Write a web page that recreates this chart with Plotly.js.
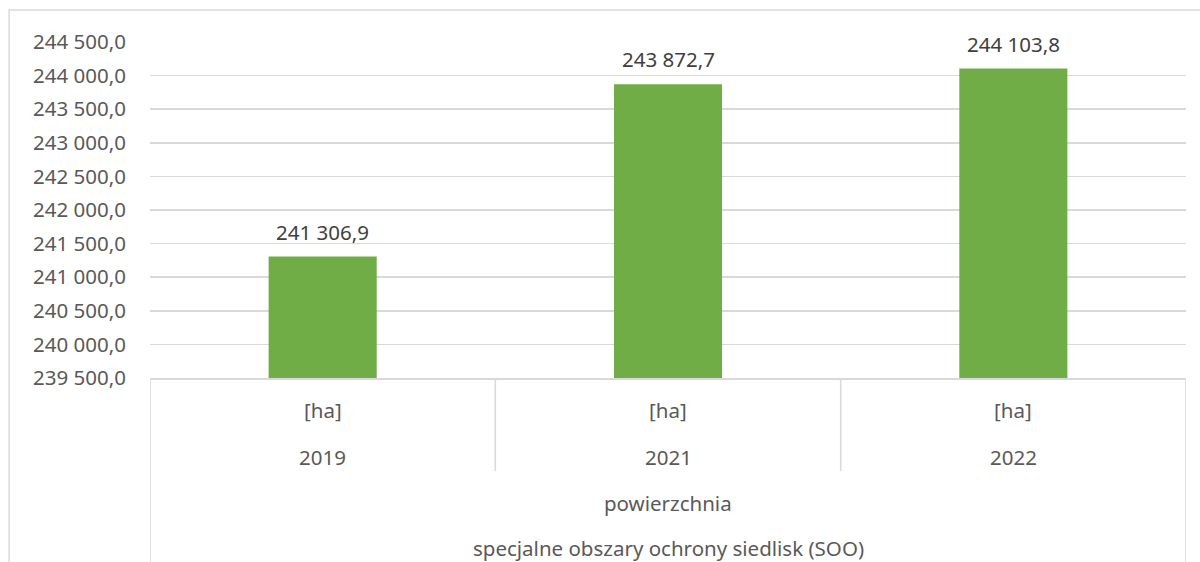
<!DOCTYPE html>
<html>
<head>
<meta charset="utf-8">
<script src="https://cdn.plot.ly/plotly-3.0.1.min.js"></script>
<style>html,body{margin:0;padding:0;background:#fff;}#chart{width:1200px;height:562px;}</style>
</head>
<body>
<div id="chart"></div>
<script>
var years = ['2019', '2021', '2022'];
var units = ['[ha]', '[ha]', '[ha]'];
var values = [241306.9, 243872.7, 244103.8];
var valueLabels = ['241 306,9', '243 872,7', '244 103,8'];
var tickVals = [239500, 240000, 240500, 241000, 241500, 242000, 242500, 243000, 243500, 244000, 244500];
var tickLabels = ['239 500,0', '240 000,0', '240 500,0', '241 000,0', '241 500,0', '242 000,0', '242 500,0', '243 000,0', '243 500,0', '244 000,0', '244 500,0'];
var groupLevel1 = 'powierzchnia';
var groupLevel2 = 'specjalne obszary ochrony siedlisk (SOO)';

var FONT = 'Noto Sans, Open Sans, sans-serif';
var FS = 20.5;
var GRID = '#d9d9d9';
var xIdx = years.map(function(_, i){ return i; });

var annotations = [];
xIdx.forEach(function(i){
  annotations.push({x: i, y: values[i], xref: 'x', yref: 'y', text: valueLabels[i], showarrow: false,
    yanchor: 'middle', yshift: 25, font: {family: FONT, size: FS, color: '#404040'}});
  annotations.push({x: i, y: 0, xref: 'x', yref: 'paper', text: units[i], showarrow: false,
    yanchor: 'middle', yshift: -32, font: {family: FONT, size: FS, color: '#595959'}});
  annotations.push({x: i, y: 0, xref: 'x', yref: 'paper', text: years[i], showarrow: false,
    yanchor: 'middle', yshift: -79, font: {family: FONT, size: FS, color: '#595959'}});
});
annotations.push({x: 0.5, y: 0, xref: 'paper', yref: 'paper', text: groupLevel1, showarrow: false,
  yanchor: 'middle', yshift: -125, font: {family: FONT, size: FS, color: '#595959'}});
annotations.push({x: 0.5, y: 0, xref: 'paper', yref: 'paper', text: groupLevel2, showarrow: false,
  yanchor: 'middle', yshift: -170, font: {family: FONT, size: FS, color: '#595959'}});

var shapes = [];
// outer chart border
shapes.push({type: 'rect', xref: 'paper', yref: 'paper', x0: -0.136, x1: 1.1, y0: -1, y1: 1.0952,
  line: {color: GRID, width: 1.5}, fillcolor: 'rgba(0,0,0,0)', layer: 'below'});
// category table lines
shapes.push({type: 'line', xref: 'x', yref: 'paper', x0: -0.5, x1: -0.5, y0: 0, y1: -1, line: {color: GRID, width: 1.5}});
shapes.push({type: 'line', xref: 'x', yref: 'paper', x0: years.length - 0.5, x1: years.length - 0.5, y0: 0, y1: -1, line: {color: GRID, width: 1.5}});
for (var k = 1; k < years.length; k++) {
  shapes.push({type: 'line', xref: 'x', yref: 'paper', x0: k - 0.5, x1: k - 0.5, y0: 0, y1: -0.277, line: {color: GRID, width: 1.5}});
}

var trace = {
  type: 'bar', x: xIdx, base: 239500,
  y: values.map(function(v){ return v - 239500; }),
  marker: {color: '#70ad47'}, width: 0.313, hoverinfo: 'none'
};

var layout = {
  width: 1200, height: 562,
  margin: {l: 150, r: 14, t: 42, b: 184},
  paper_bgcolor: '#ffffff', plot_bgcolor: '#ffffff',
  showlegend: false,
  xaxis: {range: [-0.5, years.length - 0.5], showticklabels: false, ticks: '', showgrid: false, zeroline: false,
    showline: true, linecolor: GRID, linewidth: 1.5, fixedrange: true},
  yaxis: {range: [239500, 244500], tickvals: tickVals, ticktext: tickLabels, showgrid: true, gridcolor: GRID, gridwidth: 1.5,
    zeroline: false, showline: false, ticks: '', ticklabelstandoff: 23,
    tickfont: {family: FONT, size: FS, color: '#595959'}, fixedrange: true},
  annotations: annotations,
  shapes: shapes
};

Plotly.newPlot('chart', [trace], layout, {displayModeBar: false, staticPlot: true});
</script>
</body>
</html>
